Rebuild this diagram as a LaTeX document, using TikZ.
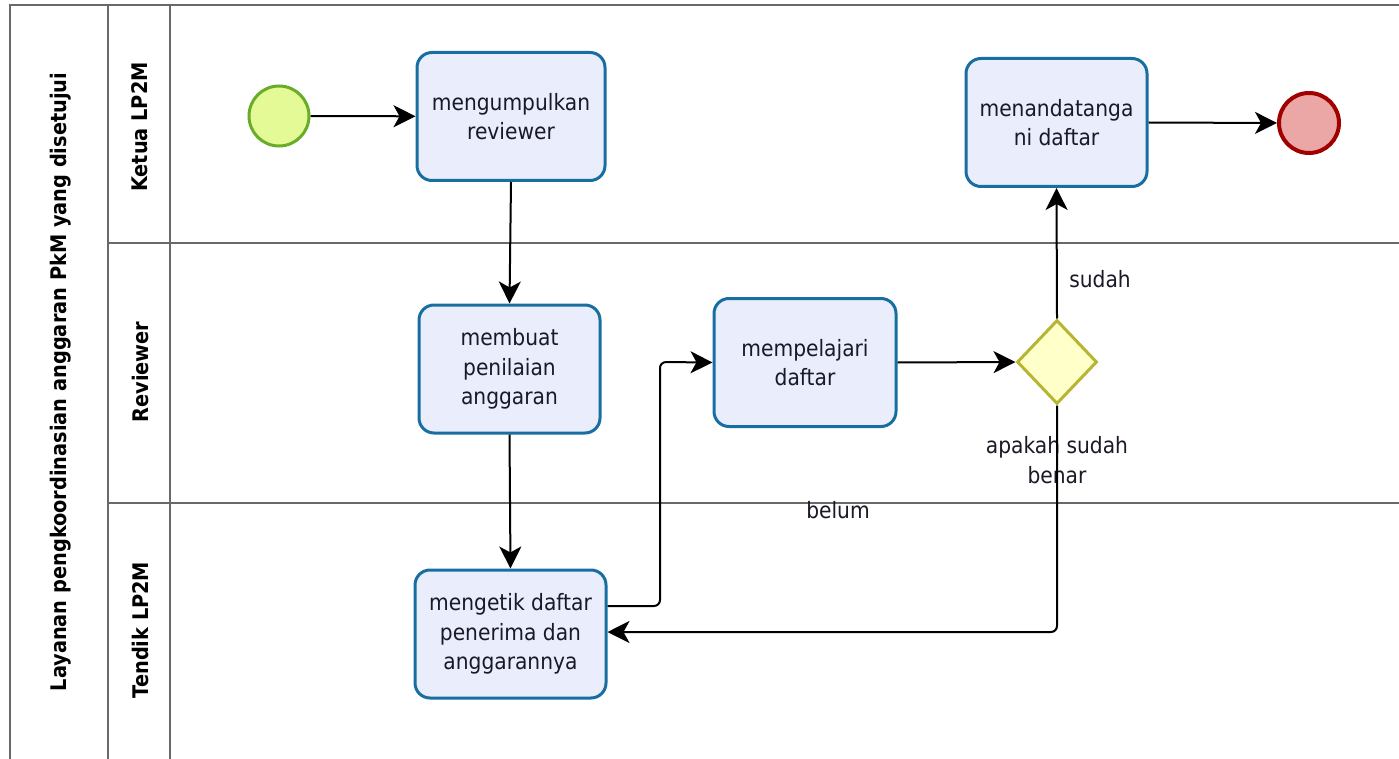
\documentclass[tikz,border=0pt]{standalone}
\usepackage{fontspec}
\setmainfont{DejaVu Sans Condensed}
\newfontfamily\lanefont{DejaVu Sans Condensed}
\usetikzlibrary{arrows.meta,shapes.geometric}
\definecolor{taskline}{RGB}{24,110,160}
\definecolor{taskfill}{RGB}{234,238,252}
\definecolor{startline}{RGB}{104,172,40}
\definecolor{startfill}{RGB}{228,250,150}
\definecolor{endline}{RGB}{160,0,0}
\definecolor{endfill}{RGB}{235,166,166}
\definecolor{gwline}{RGB}{182,182,52}
\definecolor{gwfill}{RGB}{255,255,202}
\definecolor{laneline}{RGB}{105,105,105}
\definecolor{txt}{RGB}{25,25,40}
\tikzset{
  task/.style={draw=taskline, fill=taskfill, line width=3pt, rounded corners=15pt,
    minimum width=#1, minimum height=128pt, align=center, text=txt,
    font=\fontsize{22.5}{29.5}\selectfont, inner sep=0pt},
  task/.default=184pt,
  evstart/.style={circle, draw=startline, fill=startfill, line width=3pt, minimum size=60pt, inner sep=0pt},
  evend/.style={circle, draw=endline, fill=endfill, line width=4pt, minimum size=60pt, inner sep=0pt},
  gw/.style={diamond, draw=gwline, fill=gwfill, line width=3pt, minimum width=80pt, minimum height=84pt, inner sep=0pt, aspect=1},
  flow/.style={line width=2pt, -{Stealth[length=22pt,width=22pt,inset=6pt]}, rounded corners=6pt},
  lane/.style={draw=laneline, line width=2pt},
  lanelabel/.style={rotate=90, text=black, font=\lanefont\bfseries\fontsize{21.5}{24}\selectfont},
  lbl/.style={text=txt, font=\fontsize{22.5}{29.5}\selectfont, align=center}
}
\begin{document}
\begin{tikzpicture}[x=1pt,y=-1pt]
\useasboundingbox (0,0) rectangle (1399,759);
\clip (0,0) rectangle (1399,759);
% pool and lanes
\draw[lane] (10,762) -- (10,5) -- (1402,5);
\draw[lane] (108,5) -- (108,762);
\draw[lane] (170,5) -- (170,762);
\draw[lane] (108,243) -- (1402,243);
\draw[lane] (108,503) -- (1402,503);
\node[lanelabel] (pool) at (61,382) {Layanan pengkoordinasian anggaran PkM yang disetujui};
\node[lanelabel] (l1) at (140,127) {Ketua LP2M};
\node[lanelabel] (l2) at (140,372) {Reviewer};
\node[lanelabel] (l3) at (140,630) {Tendik LP2M};
% nodes
\node[evstart] (start) at (279,116) {};
\node[task=188pt] (t1) at (511,116.5) {mengumpulkan\\reviewer};
\node[task=181pt] (t2) at (509.5,369) {membuat\\penilaian\\anggaran};
\node[task=182pt] (t3) at (805,362.5) {mempelajari\\daftar};
\node[task=191pt] (t4) at (510.5,634) {mengetik daftar\\penerima dan\\anggarannya};
\node[task=181pt] (t5) at (1056.5,122.5) {menandatanga\\ni daftar};
\node[evend] (end) at (1309,123) {};
\node[gw] (g) at (1057,362) {};
\node[lbl] (gl) at (1057,460) {apakah sudah\\benar};
% flows
\draw[flow] (start) -- (t1);
\draw[flow] (t1.south) -- (t2.north);
\draw[flow] (t2.south) -- (t4.north);
\draw[flow] (t4.east |- 0,606) -- (660,606) -- (660,362) -- (t3.west);
\draw[flow] (t3.east) -- (g.west);
\draw[flow] (g.north) -- (t5.south);
\node[lbl] (sud) at (1100,279) {sudah};
\draw[flow] (g.south) -- (1057,632) -- (t4.east |- 0,632);
\node[lbl] (bel) at (838,510) {belum};
\draw[flow] (t5.east) -- (end.west);
\end{tikzpicture}
\end{document}
